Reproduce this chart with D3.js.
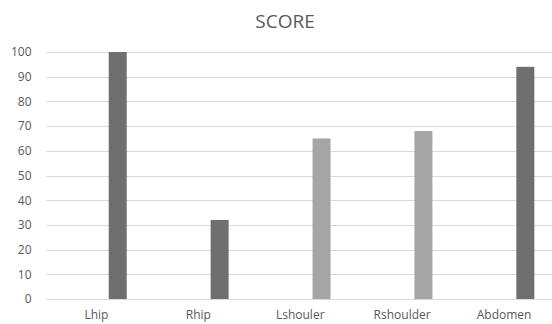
<!DOCTYPE html>
<html>
<head>
<meta charset="utf-8">
<script src="https://cdn.jsdelivr.net/npm/d3@7"></script>
<style>
  html, body { margin: 0; padding: 0; background: #fff; }
  svg { display: block; font-family: "Open Sans", "Liberation Sans", sans-serif; }
</style>
</head>
<body>
<svg id="chart" width="552" height="324"></svg>
<script>
// Chart data
const title = "SCORE";
const categories = ["Lhip", "Rhip", "Lshouler", "Rshoulder", "Abdomen"];
const scores = [100, 32, 65, 68, 94];
const barTones = ["dark", "dark", "light", "light", "dark"];
const seriesSlots = ["", "SCORE"];   // first slot of each group is empty
const yTicks = [0, 10, 20, 30, 40, 50, 60, 70, 80, 90, 100];

const toneColor = { dark: "#6f6f6f", light: "#a5a5a5" };

const svg = d3.select("#chart");
const W = 552, H = 324;
const margin = { top: 52, right: -3, bottom: 25, left: 45.5 };

const x = d3.scaleBand()
  .domain(categories)
  .range([margin.left, W - margin.right])
  .padding(0);

const x1 = d3.scaleBand()
  .domain(seriesSlots)
  .range([0, x.bandwidth()])
  .paddingInner(0.577)
  .paddingOuter(0.486);

const y = d3.scaleLinear()
  .domain([0, 100])
  .range([H - margin.bottom, margin.top]);

// Title
svg.append("text")
  .attr("x", 285)
  .attr("y", 28)
  .attr("text-anchor", "middle")
  .attr("fill", "#595959")
  .attr("font-size", 19)
  .text(title);

// Gridlines and y labels
const yAxis = d3.axisLeft(y)
  .tickValues(yTicks)
  .tickSize(-(W - margin.right - margin.left))
  .tickPadding(14);

const gy = svg.append("g")
  .attr("transform", `translate(${margin.left},0)`)
  .call(yAxis);
gy.select(".domain").remove();
gy.selectAll(".tick line")
  .attr("stroke", "#d9d9d9")
  .attr("stroke-width", 1)
  .attr("shape-rendering", "crispEdges");
gy.selectAll(".tick text")
  .attr("fill", "#595959")
  .attr("font-size", 12)
  .attr("font-family", "\"Open Sans\", \"Liberation Sans\", sans-serif");

// Bars
svg.append("g")
  .selectAll("rect")
  .data(categories.map((c, i) => ({ c, v: scores[i], tone: barTones[i] })))
  .join("rect")
  .attr("x", d => x(d.c) + x1("SCORE"))
  .attr("width", x1.bandwidth())
  .attr("y", d => y(d.v))
  .attr("height", d => y(0) - y(d.v))
  .attr("fill", d => toneColor[d.tone]);

// Category labels
const xAxis = d3.axisBottom(x).tickSize(0).tickPadding(11);
const gx = svg.append("g")
  .attr("transform", `translate(0,${y(0)})`)
  .call(xAxis);
gx.select(".domain").remove();
gx.selectAll(".tick text")
  .attr("fill", "#595959")
  .attr("font-size", 12)
  .attr("font-family", "\"Open Sans\", \"Liberation Sans\", sans-serif");
</script>
</body>
</html>
